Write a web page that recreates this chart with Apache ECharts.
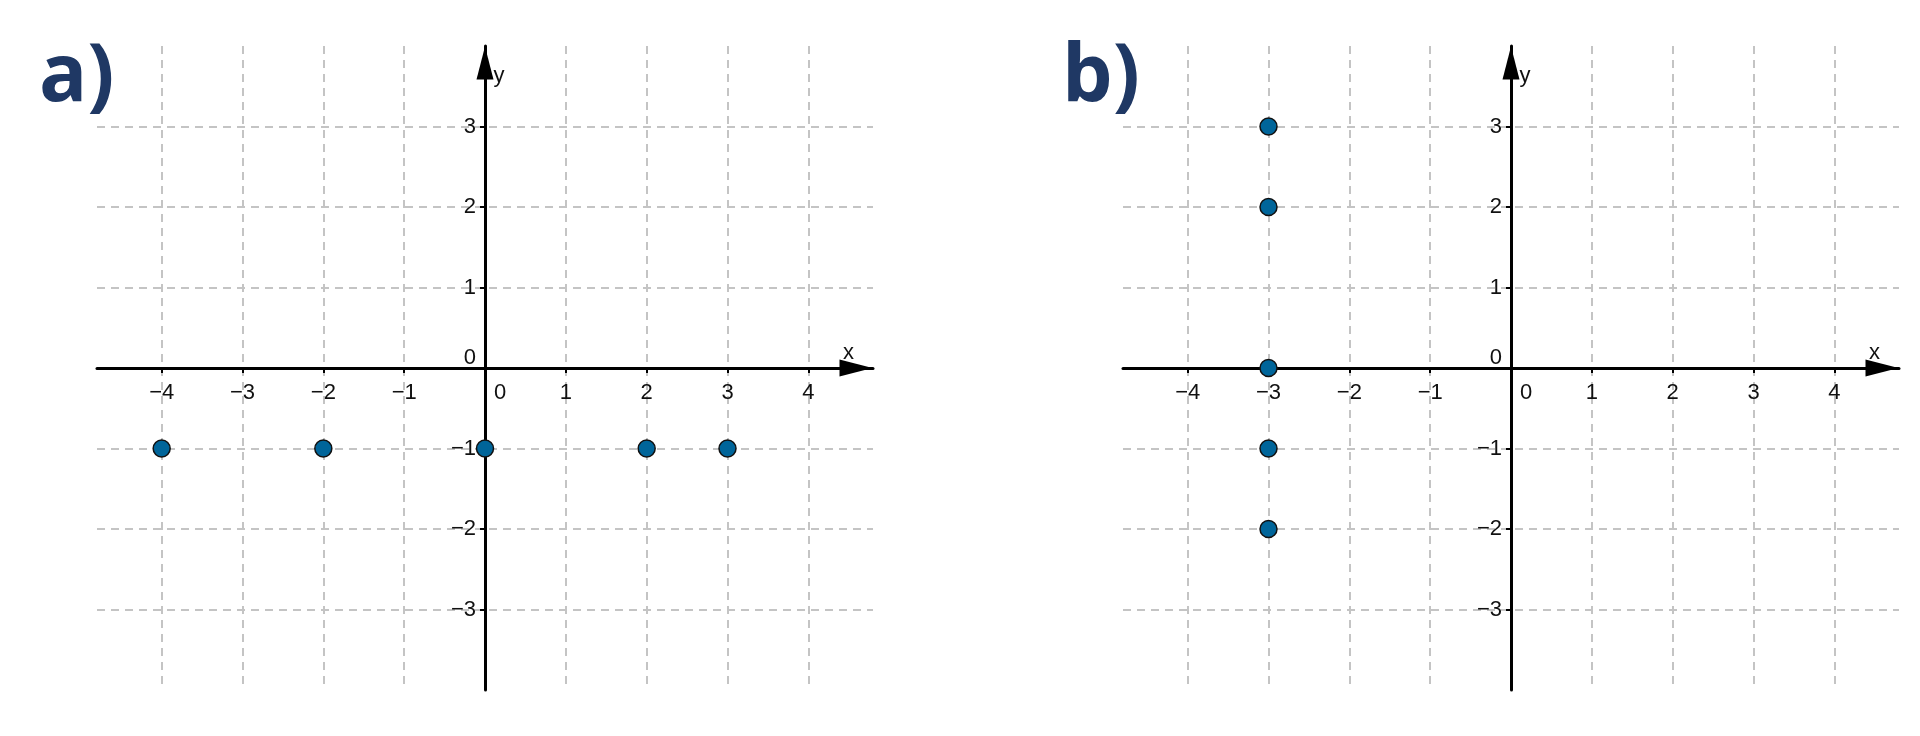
<!DOCTYPE html>
<html>
<head>
<meta charset="utf-8">
<script src="https://cdn.jsdelivr.net/npm/echarts@6/dist/echarts.min.js"></script>
<style>html,body{margin:0;padding:0;background:#fff;}#c{width:1920px;height:736px;}</style>
</head>
<body>
<div id="c"></div>
<script>
// ---- data ----
const panelTitles = ['a)', 'b)'];
const xTicks = [-4, -3, -2, -1, 0, 1, 2, 3, 4];
const yTicks = [-3, -2, -1, 0, 1, 2, 3];
const xRange = [-4.8, 4.8];
const yRange = [-4, 4];
const pointsAX = [-4, -2, 0, 2, 3];
const pointsAY = [-1, -1, -1, -1, -1];
const pointsBX = [-3, -3, -3, -3, -3];
const pointsBY = [3, 2, 0, -1, -2];
const axisNames = ['x', 'y'];

// ---- layout / styles ----
const FONT = "'Liberation Sans', Arial, sans-serif";
const GRID_COLOR = '#c4c4c4';
const POINT_COLOR = '#00659a';
const GRID_W = 776, GRID_H = 644, GRID_TOP = 46;
const GRID_LEFTS = [97, 1123];
const xAxisOffset = -GRID_H * (0 - yRange[0]) / (yRange[1] - yRange[0]);
const yAxisOffset = -GRID_W * (0 - xRange[0]) / (xRange[1] - xRange[0]);

function minus(v) { return String(v).replace('-', '\u2212'); }

function makeX(gi) {
  return {
    type: 'value', gridIndex: gi, min: xRange[0], max: xRange[1],
    position: 'bottom', offset: xAxisOffset,
    name: axisNames[0], nameLocation: 'end', nameGap: -30, nameMoveOverlap: false,
    nameTextStyle: { fontFamily: FONT, fontSize: 22, color: '#111', align: 'left', verticalAlign: 'bottom', padding: [0, 0, 4, 0] },
    axisLine: { onZero: false, lineStyle: { color: '#000', width: 3 },
      symbol: ['none', 'triangle'], symbolSize: [17, 33], symbolOffset: [0, -17] },
    axisTick: { show: true, customValues: xTicks, length: 5, inside: false, lineStyle: { color: '#000', width: 2 } },
    axisLabel: { customValues: xTicks, margin: 14, fontFamily: FONT, fontSize: 22, color: '#111',
      formatter: v => v === 0 ? '{z|0}' : minus(v),
      rich: { z: { fontFamily: FONT, fontSize: 22, color: '#111', padding: [0, 0, 0, 30] } } },
    splitLine: { show: true, lineStyle: { color: GRID_COLOR, width: 2, type: [8, 6] } }
  };
}
function makeY(gi) {
  return {
    type: 'value', gridIndex: gi, min: yRange[0], max: yRange[1],
    position: 'left', offset: yAxisOffset,
    name: axisNames[1], nameLocation: 'end', nameGap: -41, nameMoveOverlap: false,
    nameTextStyle: { fontFamily: FONT, fontSize: 22, color: '#111', padding: [0, 0, 0, 28] },
    axisLine: { onZero: false, lineStyle: { color: '#000', width: 3 },
      symbol: ['none', 'triangle'], symbolSize: [17, 33], symbolOffset: [0, -17] },
    axisTick: { show: true, customValues: yTicks, length: 5, inside: false, lineStyle: { color: '#000', width: 2 } },
    axisLabel: { customValues: yTicks, margin: 9, fontFamily: FONT, fontSize: 22, color: '#111',
      formatter: v => v === 0 ? '{z|0}' : minus(v),
      rich: { z: { fontFamily: FONT, fontSize: 22, color: '#111', padding: [0, 0, 21, 0] } } },
    splitLine: { show: true, lineStyle: { color: GRID_COLOR, width: 2, type: [8, 6] } }
  };
}
function pts(xs, ys) { return xs.map((x, i) => [x, ys[i]]); }
function scatter(gi, xs, ys) {
  return {
    type: 'scatter', xAxisIndex: gi, yAxisIndex: gi, data: pts(xs, ys),
    symbol: 'circle', symbolSize: 17, z: 5,
    itemStyle: { color: POINT_COLOR, borderColor: '#111', borderWidth: 1.5, opacity: 1 },
    emphasis: { disabled: true }, animation: false
  };
}
const titleStyle = { fontFamily: "'Open Sans', sans-serif", fontWeight: 'bold', fontSize: 80, color: '#1f3864' };

const chart = echarts.init(document.getElementById('c'), null, { renderer: 'canvas' });
chart.setOption({
  animation: false,
  backgroundColor: '#fff',
  title: [
    { text: panelTitles[0], left: 39, top: 38, padding: 0, textStyle: titleStyle },
    { text: panelTitles[1], left: 1062, top: 38, padding: 0, textStyle: titleStyle }
  ],
  grid: GRID_LEFTS.map(l => ({ left: l, width: GRID_W, top: GRID_TOP, height: GRID_H, containLabel: false })),
  xAxis: [makeX(0), makeX(1)],
  yAxis: [makeY(0), makeY(1)],
  series: [scatter(0, pointsAX, pointsAY), scatter(1, pointsBX, pointsBY)]
});
</script>
</body>
</html>
